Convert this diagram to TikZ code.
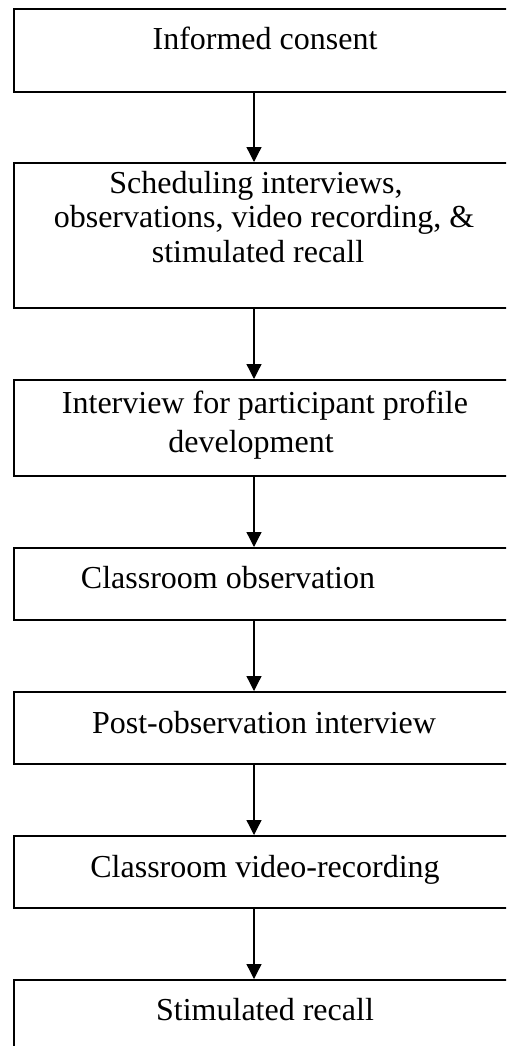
\documentclass[tikz,border=0pt]{standalone}
\usepackage{fontspec}
\setmainfont{Liberation Serif}
\usetikzlibrary{arrows.meta}
\begin{document}
\begin{tikzpicture}[x=1pt,y=-1pt,
  box/.style={draw=black,line width=1.6pt,anchor=north west,inner sep=0pt,minimum width=504pt},
  lbl/.style={anchor=base,inner sep=0pt,font=\fontsize{32}{35}\selectfont},
  arr/.style={line width=1.3pt,-{Triangle[width=15pt,length=15pt]}}]
\useasboundingbox (0,0) rectangle (506,1046);
\clip (0,0) rectangle (506,1046);
\coordinate (ax) at (254,0);
\node[box,minimum height=83pt] (b1) at (13,8) {};
\node[box,minimum height=145pt] (b2) at (13,162) {};
\node[box,minimum height=96pt] (b3) at (13,379) {};
\node[box,minimum height=72pt] (b4) at (13,547) {};
\node[box,minimum height=72pt] (b5) at (13,691) {};
\node[box,minimum height=72pt] (b6) at (13,835) {};
\node[box,minimum height=80pt] (b7) at (13,979) {};
\node[lbl] (t1) at (265,50) {Informed consent};
\node[lbl] (t2a) at (256,193) {Scheduling interviews,};
\node[lbl] (t2b) at (264,227) {observations, video recording, \&};
\node[lbl] (t2c) at (258,262) {stimulated recall};
\node[lbl] (t3a) at (265,413) {Interview for participant profile};
\node[lbl] (t3b) at (251,452) {development};
\node[lbl] (t4) at (228,588) {Classroom observation};
\node[lbl] (t5) at (264,733) {Post-observation interview};
\node[lbl] (t6) at (265,877) {Classroom video-recording};
\node[lbl] (t7) at (265,1020) {Stimulated recall};
\draw[arr] (b1.south -| ax) -- (b2.north -| ax);
\draw[arr] (b2.south -| ax) -- (b3.north -| ax);
\draw[arr] (b3.south -| ax) -- (b4.north -| ax);
\draw[arr] (b4.south -| ax) -- (b5.north -| ax);
\draw[arr] (b5.south -| ax) -- (b6.north -| ax);
\draw[arr] (b6.south -| ax) -- (b7.north -| ax);
\end{tikzpicture}
\end{document}
